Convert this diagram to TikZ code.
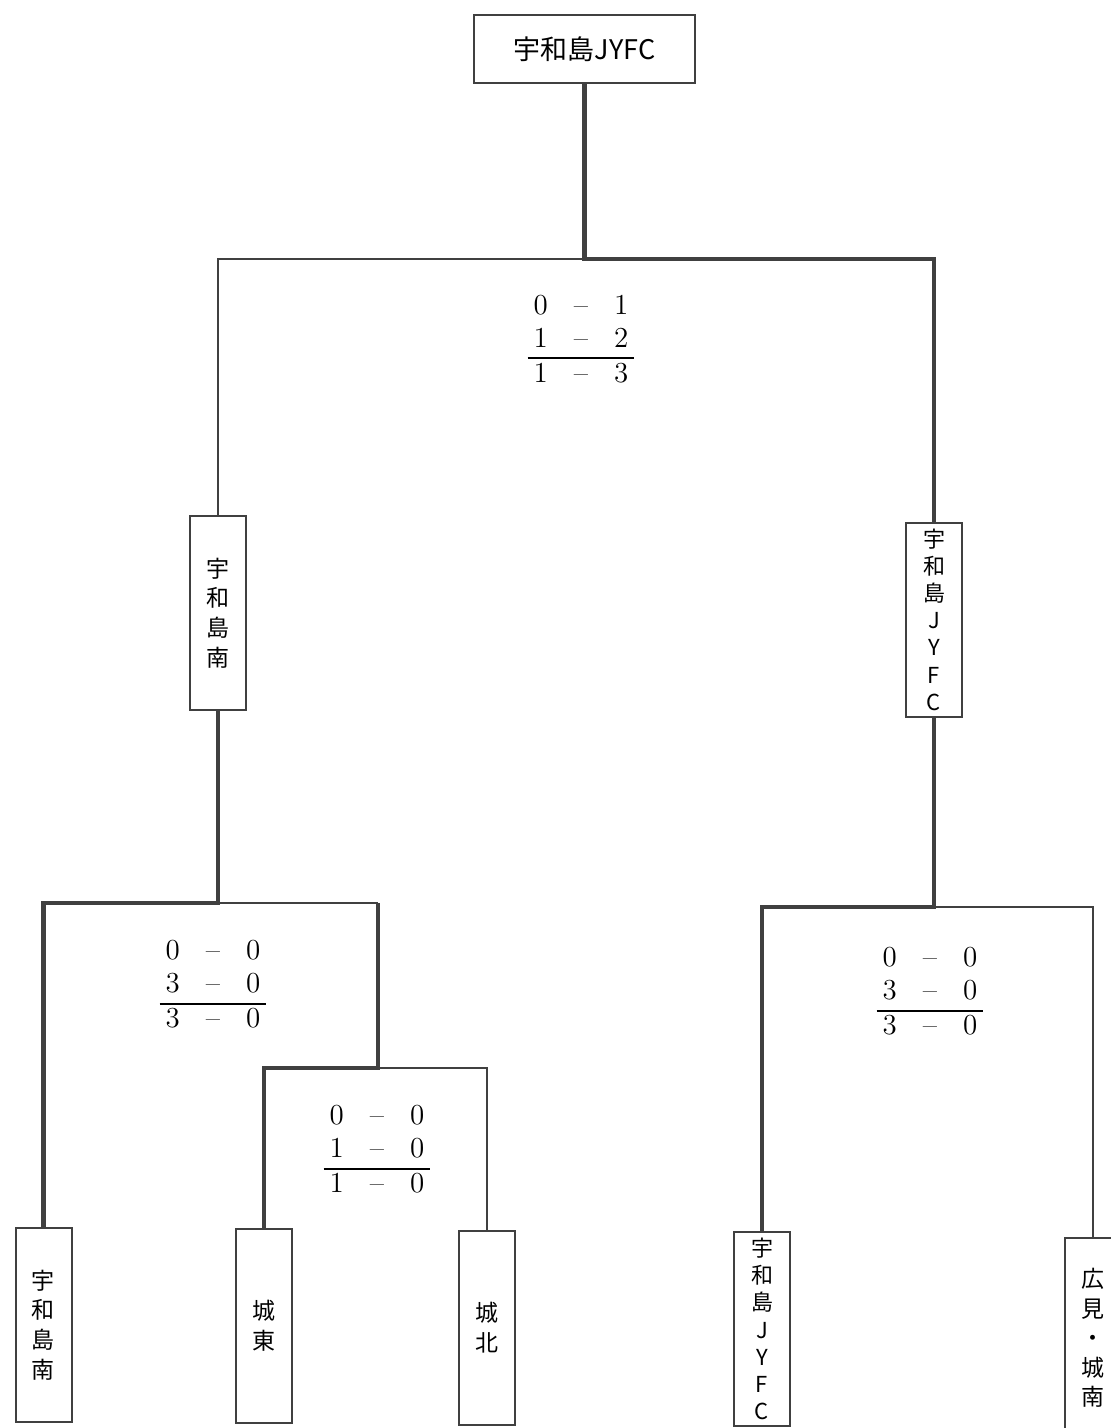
\documentclass[tikz,border=0pt]{standalone}
\usepackage{fontspec}
\newfontfamily\jp{Noto Sans CJK JP}
\begin{document}
\begin{tikzpicture}[
                x=0.5pt, y=-0.5pt,
                every node/.style={draw=black!75, line width=1pt, inner sep=0pt, align=center},
                team/.style={minimum width=28pt, minimum height=97pt, font=\jp\fontsize{11.5}{14.8}\selectfont},
                longteam/.style={team, font=\jp\fontsize{11}{13.6}\selectfont},
                score/.style={draw=none, font=\fontsize{14.5}{17}\selectfont},
                win/.style={draw=black!75, line width=2.2pt},
                lose/.style={draw=black!75, line width=1.1pt},
            ]
            \useasboundingbox (0,0) rectangle (1111,1428);
            % teams
            \node[minimum width=110.5pt, minimum height=34pt, font=\jp\fontsize{13.5}{15}\selectfont] (champ) at (584.5,49) {宇和島JYFC};
            \node[team] (semiL) at (218,613) {宇\\和\\島\\南};
            \node[longteam] (semiR) at (934,619.5) {宇\\和\\島\\J\\Y\\F\\C};
            \node[team] (uwajimaS) at (43.5,1325) {宇\\和\\島\\南};
            \node[team] (joto) at (264,1326) {城\\東};
            \node[team] (johoku) at (487,1327.5) {城\\北};
            \node[longteam] (jyfc) at (762,1329) {宇\\和\\島\\J\\Y\\F\\C};
            \node[team, minimum height=100pt] (hiromi) at (1093,1338) {広\\見\\・\\城\\南};
            % junctions
            \coordinate (final) at (champ.south |- 0,259);
            \coordinate (semiLj) at (semiL.south |- 0,903);
            \coordinate (semiRj) at (semiR.south |- 0,907);
            \coordinate (first) at (378,1068);
            % lines
            \draw[win] (champ.south) -- (final) -| (semiR.north);
            \draw[lose] (final) -| (semiL.north);
            \draw[win] (semiL.south) -- (semiLj) -| (uwajimaS.north);
            \draw[lose] (semiLj) -- (semiLj -| first);
            \draw[win] (semiLj -| first) -- (first) -| (joto.north);
            \draw[lose] (first) -| (johoku.north);
            \draw[win] (semiR.south) -- (semiRj) -| (jyfc.north);
            \draw[lose] (semiRj) -| (hiromi.north);
            % scores
            \renewcommand\arraystretch{0.97}
            \setlength\arrayrulewidth{1pt}
            \node[score] (scoreF) at (581,342) {\begin{tabular}{@{\hspace{3pt}}c@{\hspace{13pt}}c@{\hspace{13pt}}c@{\hspace{3pt}}}0 & -- & 1\\ 1 & -- & 2\\ \hline 1 & -- & 3\end{tabular}};
            \node[score] (scoreL) at (213,987) {\begin{tabular}{@{\hspace{3pt}}c@{\hspace{13pt}}c@{\hspace{13pt}}c@{\hspace{3pt}}}0 & -- & 0\\ 3 & -- & 0\\ \hline 3 & -- & 0\end{tabular}};
            \node[score] (scoreM) at (377,1152) {\begin{tabular}{@{\hspace{3pt}}c@{\hspace{13pt}}c@{\hspace{13pt}}c@{\hspace{3pt}}}0 & -- & 0\\ 1 & -- & 0\\ \hline 1 & -- & 0\end{tabular}};
            \node[score] (scoreR) at (930,994) {\begin{tabular}{@{\hspace{3pt}}c@{\hspace{13pt}}c@{\hspace{13pt}}c@{\hspace{3pt}}}0 & -- & 0\\ 3 & -- & 0\\ \hline 3 & -- & 0\end{tabular}};
            \end{tikzpicture}
\end{document}
